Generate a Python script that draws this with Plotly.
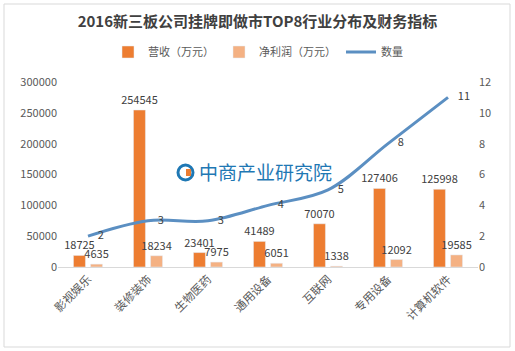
import plotly.graph_objects as go

categories = ["影视娱乐", "装修装饰", "生物医药", "通用设备", "互联网", "专用设备", "计算机软件"]
revenue = [18725, 254545, 23401, 41489, 70070, 127406, 125998]
profit = [4635, 18234, 7975, 6051, 1338, 12092, 19585]
count = [2, 3, 3, 4, 5, 8, 11]

FONT = "Noto Sans CJK SC"
GRAY = "#595959"

fig = go.Figure()
fig.add_trace(go.Bar(
    x=categories, y=revenue, name="营收（万元）",
    marker_color="#ED7D31",
    text=[str(v) for v in revenue], textposition="outside",
    textfont=dict(size=11, color="#404040", family=FONT),
    constraintext="none", cliponaxis=False,
))
fig.add_trace(go.Bar(
    x=categories, y=profit, name="净利润（万元）",
    marker_color="#F4B183",
    text=[str(v) for v in profit], textposition="outside",
    textfont=dict(size=11, color="#404040", family=FONT),
    constraintext="none", cliponaxis=False,
))
fig.add_trace(go.Scatter(
    x=categories, y=count, name="数量", yaxis="y2",
    mode="lines+text",
    line=dict(color="#5B8FC2", width=3, shape="spline", smoothing=1.0),
    text=["    " + str(v) for v in count], textposition="middle right",
    textfont=dict(size=11, color="#404040", family=FONT),
    cliponaxis=False,
))

L, R, T, B = 58, 478, 82, 267
W, H = R - L, B - T

def px(xp):
    return (xp - L) / W

def py(yp):
    return (B - yp) / H

fig.update_layout(
    width=515, height=351,
    margin=dict(l=L, r=515 - R, t=T, b=351 - B),
    paper_bgcolor="white", plot_bgcolor="white",
    font=dict(family=FONT, size=11, color=GRAY),
    title=dict(text="<b>2016新三板公司挂牌即做市TOP8行业分布及财务指标</b>",
               x=0.5, xanchor="center", y=1 - 22 / 351, yanchor="middle",
               font=dict(size=15, color="#404040", family=FONT)),
    barmode="group", bargap=0.43, bargroupgap=0.3,
    showlegend=True,
    legend=dict(orientation="h", x=px(258), xanchor="center", y=py(52), yanchor="middle",
                font=dict(size=11, color=GRAY, family=FONT), bgcolor="rgba(0,0,0,0)",
                itemwidth=30),
    xaxis=dict(tickangle=-45, showline=True, linecolor="#d9d9d9", linewidth=1,
               showgrid=False, ticks="", tickfont=dict(size=11.5, color=GRAY)),
    yaxis=dict(range=[0, 300000], dtick=50000, showgrid=False, zeroline=False,
               showline=False, ticks="", tickfont=dict(size=11, color=GRAY),
               tickformat="d"),
    yaxis2=dict(range=[0, 12], dtick=2, overlaying="y", side="right", showgrid=False,
                zeroline=False, showline=False, ticks="", tickfont=dict(size=11, color=GRAY)),
)

# outer frame
fig.add_shape(type="rect", xref="paper", yref="paper",
              x0=px(4), x1=px(510), y0=py(347), y1=py(4),
              line=dict(color="#d9d9d9", width=1), fillcolor="rgba(0,0,0,0)", layer="below")

# watermark
fig.add_shape(type="circle", xref="paper", yref="paper",
              x0=px(178), x1=px(193), y0=py(180), y1=py(165),
              line=dict(color="#1F78B4", width=3), fillcolor="rgba(0,0,0,0)")
fig.add_shape(type="rect", xref="paper", yref="paper",
              x0=px(186), x1=px(191), y0=py(176), y1=py(169),
              line=dict(width=0), fillcolor="#ED7D31")
fig.add_annotation(text="中商产业研究院", xref="paper", yref="paper",
                   x=px(197), xanchor="left", y=py(171), yanchor="middle",
                   showarrow=False, font=dict(size=19, color="#1F78B4", family=FONT))

fig.write_html("out.html")
